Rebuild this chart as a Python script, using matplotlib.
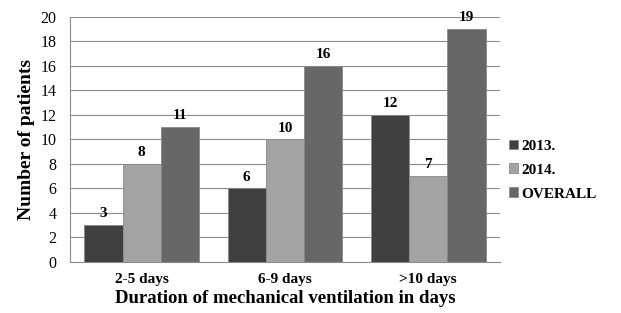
import matplotlib.pyplot as plt
import numpy as np

plt.rcParams['font.family'] = ['Liberation Serif', 'DejaVu Serif']

categories = ["2-5 days", "6-9 days", ">10 days"]
series_names = ["2013.", "2014.", "OVERALL"]
y2013 = [3, 6, 12]
y2014 = [8, 10, 7]
overall = [11, 16, 19]
colors = ["#404040", "#a3a3a3", "#676767"]

fig = plt.figure(figsize=(6.21, 3.13), dpi=100)
ax = fig.add_axes([0.113, 0.163, 0.692, 0.783])

x = np.arange(len(categories))
w = 0.267
for i, (vals, name, c) in enumerate(zip([y2013, y2014, overall], series_names, colors)):
    pos = x + (i - 1) * w
    ax.bar(pos, vals, w, color=c, edgecolor="#8a8a8a", linewidth=0.6, label=name, zorder=3)
    for p, v in zip(pos, vals):
        ax.text(p, v + 0.4, str(v), ha="center", va="bottom", fontsize=11, fontweight="bold")

ax.set_xlim(-0.5, 2.5)
ax.set_ylim(0, 20)
ax.set_yticks(range(0, 21, 2))
ax.yaxis.grid(True, color="#8c8c8c", linewidth=0.8, zorder=0)
ax.set_xticks(x)
ax.set_xticklabels(categories, fontsize=11, fontweight="bold")
ax.tick_params(axis="y", labelsize=11.5, length=0, pad=10)
ax.tick_params(axis="x", length=0, pad=8)
for s in ["top", "right"]:
    ax.spines[s].set_visible(False)
ax.spines["left"].set_color("#8c8c8c")
ax.spines["bottom"].set_color("#8c8c8c")

ax.set_ylabel("Number of patients", fontsize=14, fontweight="bold", labelpad=4)
ax.set_xlabel("Duration of mechanical ventilation in days", fontsize=13.5, fontweight="bold", labelpad=3)

leg = ax.legend(loc="center left", bbox_to_anchor=(1.0, 0.375), frameon=False,
                prop={"size": 11, "weight": "bold"}, handlelength=0.6, handleheight=0.6,
                handletextpad=0.2, labelspacing=0.7, borderaxespad=0.2)

fig.savefig("out.png", dpi=100)
